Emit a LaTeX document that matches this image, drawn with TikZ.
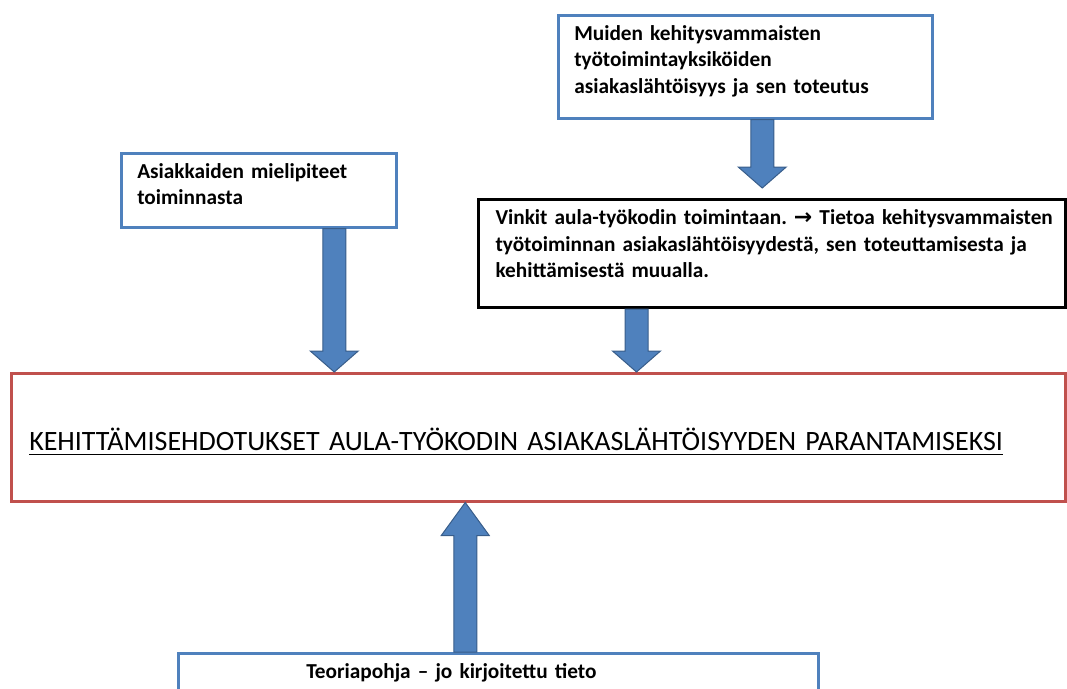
\documentclass[tikz,border=0pt]{standalone}
\usepackage{fontspec}
\setmainfont{Carlito}
\newfontfamily\nuolifont{DejaVu Sans}
\usetikzlibrary{calc}
\definecolor{color1}{RGB}{79,129,189}
\definecolor{color2}{RGB}{192,80,77}
\definecolor{color3}{RGB}{56,93,138}
\frenchspacing

\newcommand{\paksualle}[1]{\leavevmode\setbox0\hbox{#1}\rlap{\copy0}\rule[-5pt]{\wd0}{1.6pt}}
\newcommand{\isonuoli}[3][21pt]{%
  \filldraw[nuoli] let \p1=#2, \p2=#3, \n1={sign(\y2-\y1)} in
    (\x1-11.5pt,\y1) -- (\x1-11.5pt,{\y2-(\n1)*#1}) -- (\x1-24pt,{\y2-(\n1)*#1})
    -- (\x1,\y2) -- (\x1+24pt,{\y2-(\n1)*#1}) -- (\x1+11.5pt,{\y2-(\n1)*#1})
    -- (\x1+11.5pt,\y1) -- cycle;}

\begin{document}
\begin{tikzpicture}[x=1pt,y=-1pt,
    laatikko/.style={draw=color1,line width=2.5pt,fill=white,anchor=north west,
      align=left,inner xsep=16pt,inner ysep=10pt,text height=15pt,
      font=\fontsize{21.3}{26.5}\selectfont\bfseries},
    nuoli/.style={fill=color1,draw=color3,line width=1pt,line join=miter}]
\useasboundingbox (0,0) rectangle (1067,688);

\node[laatikko,text width=342pt,text depth=68pt] (yla) at (557,14)
  {Muiden kehitysvammaisten\\työtoimintayksiköiden\\asiakaslähtöisyys ja sen toteutus};
\node[laatikko,text width=243pt,text depth=39pt] (asiak) at (120,152)
  {Asiakkaiden mielipiteet\\toiminnasta};
\node[laatikko,draw=black,line width=3pt,inner xsep=17pt,text width=553pt,text depth=73pt] (vinkit) at (477,198)
  {\mbox{Vinkit aula-työkodin toimintaan. {\nuolifont\bfseries\fontsize{22}{24}\selectfont →} Tietoa kehitysvammaisten}\\työtoiminnan asiakaslähtöisyydestä, sen toteuttamisesta ja\\kehittämisestä muualla.};
\node[laatikko,draw=color2,inner xsep=18pt,text width=1018pt,text height=67pt,text depth=41pt,
  font=\fontsize{28}{33}\selectfont] (paran) at (10,372)
  {\paksualle{KEHITTÄMISEHDOTUKSET AULA-TYÖKODIN ASIAKASLÄHTÖISYYDEN PARANTAMISEKSI}};
\node[laatikko,inner xsep=128pt,text width=384pt,text depth=40pt] (teoria) at (177,652)
  {Teoriapohja – jo kirjoitettu tieto};

\coordinate (n1) at ($(yla.south)+(17,0)$);
\coordinate (n1k) at ($(n1 |- vinkit.north)+(0,-10)$);
\isonuoli{(n1)}{(n1k)}
\coordinate (n2) at ($(asiak.south)+(75.5,0)$);
\isonuoli{(n2)}{(n2 |- paran.north)}
\coordinate (n3) at ($(vinkit.south)+(-135.5,0)$);
\isonuoli{(n3)}{(n3 |- paran.north)}
\coordinate (n4) at ($(teoria.north)+(-33,0)$);
\isonuoli[33pt]{(n4)}{(n4 |- paran.south)}
\end{tikzpicture}
\end{document}
